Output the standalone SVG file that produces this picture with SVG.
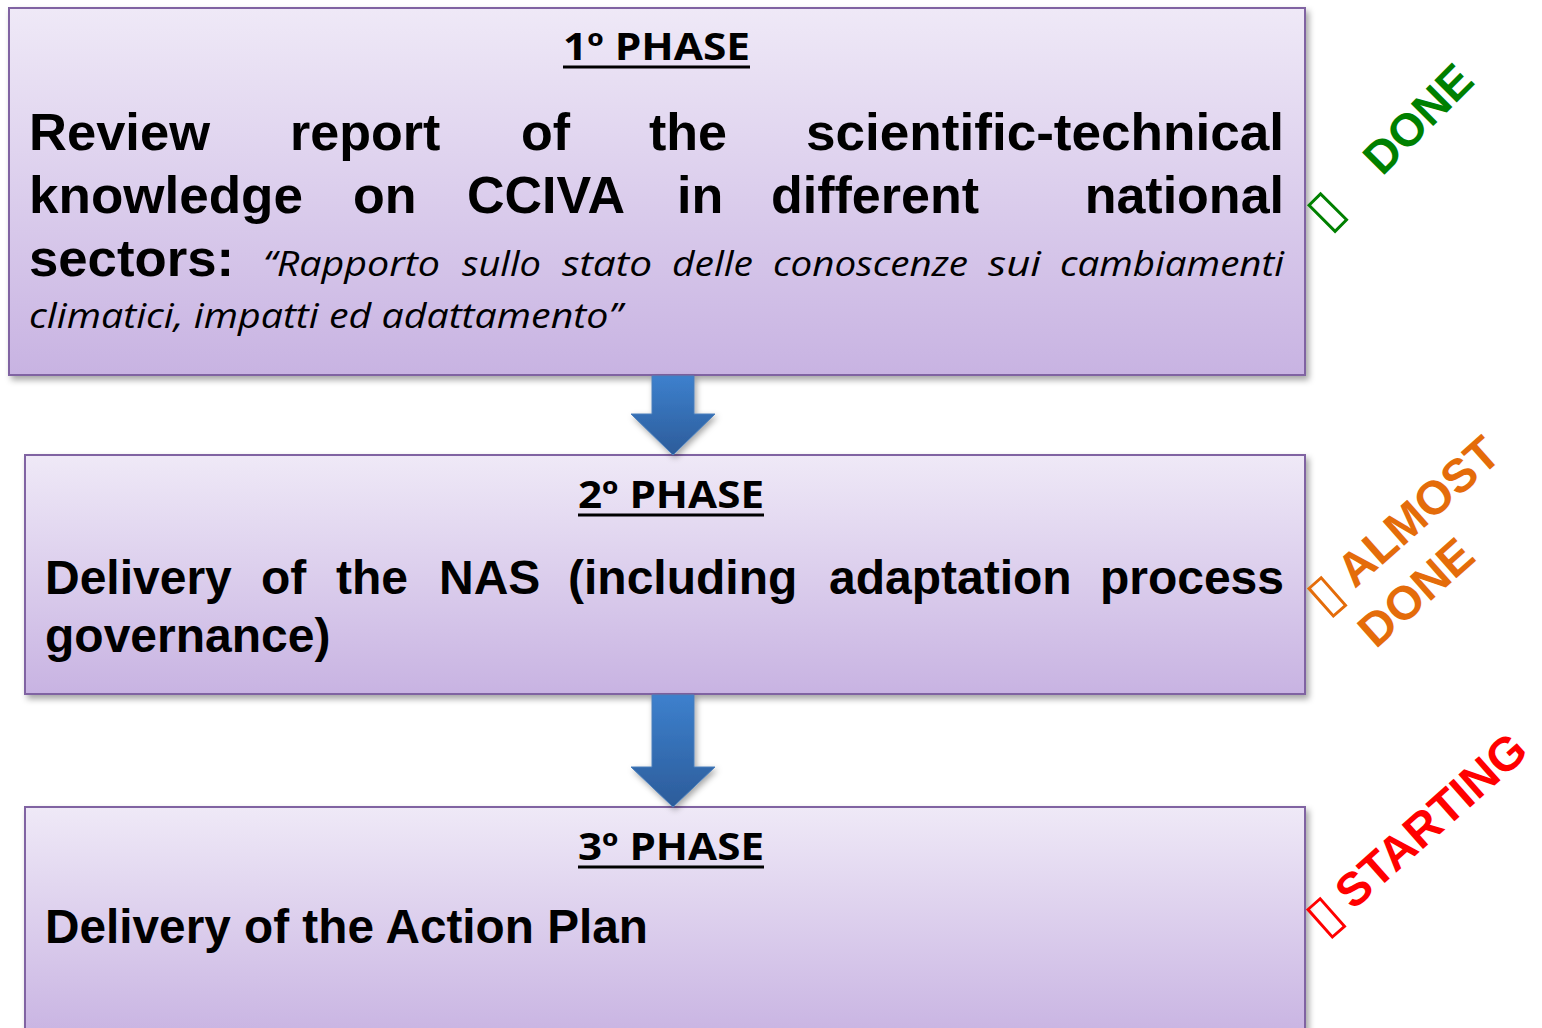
<svg xmlns="http://www.w3.org/2000/svg" width="1542" height="1028" viewBox="0 0 1542 1028">
  <defs>
    <linearGradient id="boxFill" x1="0" y1="0" x2="0" y2="1">
      <stop offset="0" stop-color="#EFE9F7"/>
      <stop offset="1" stop-color="#C8B3E2"/>
    </linearGradient>
    <linearGradient id="box3Fill" gradientUnits="userSpaceOnUse" x1="0" y1="807" x2="0" y2="1040">
      <stop offset="0" stop-color="#EFE9F7"/>
      <stop offset="1" stop-color="#C8B3E2"/>
    </linearGradient>
    <linearGradient id="arrowFill" x1="0" y1="0" x2="0" y2="1">
      <stop offset="0" stop-color="#3D80CD"/>
      <stop offset="1" stop-color="#2C5C9A"/>
    </linearGradient>
    <filter id="shadow" x="-5%" y="-10%" width="110%" height="125%">
      <feDropShadow dx="3" dy="4" stdDeviation="3" flood-color="#000" flood-opacity="0.35"/>
    </filter>
    <filter id="arrowShadow" x="-30%" y="-30%" width="160%" height="160%">
      <feDropShadow dx="2" dy="3" stdDeviation="3" flood-color="#000" flood-opacity="0.35"/>
    </filter>
    <style>
      .box { stroke: #8064A2; stroke-width: 2; filter: url(#shadow); }
      .title { font-family: "Open Sans", "Liberation Sans", sans-serif; font-weight: bold; font-size: 37px; fill: #000; }
      .uline { stroke: #000; stroke-width: 3; }
      .big { font-family: "Liberation Sans", Arial, sans-serif; font-weight: bold; font-size: 52px; fill: #000; }
      .mid { font-family: "Liberation Sans", Arial, sans-serif; font-weight: bold; font-size: 48px; fill: #000; }
      .ital { font-family: "Open Sans", "Liberation Sans", sans-serif; font-style: italic; font-size: 34px; fill: #000; }
      .arrow { fill: url(#arrowFill); stroke: #4A7EBB; stroke-width: 1; filter: url(#arrowShadow); }
      .status { font-family: "Liberation Sans", Arial, sans-serif; font-weight: bold; font-size: 46px; }
      .status-lg { font-size: 47px; }
      .tick { font-family: "DejaVu Sans", sans-serif; font-weight: bold; font-size: 52px; }
    </style>
  </defs>

  <rect width="1542" height="1028" fill="#FFFFFF"/>

  <!-- Phase 1 -->
  <g id="phase1">
    <rect class="box" x="9" y="8" width="1296" height="367" fill="url(#boxFill)"/>
    <text class="title" x="563" y="60" textLength="187" lengthAdjust="spacingAndGlyphs">1º PHASE</text>
    <line class="uline" x1="563" y1="67" x2="750" y2="67"/>
    <text class="big" x="29" y="150" textLength="181" lengthAdjust="spacingAndGlyphs">Review</text>
    <text class="big" x="290" y="150">report</text>
    <text class="big" x="521" y="150">of</text>
    <text class="big" x="649" y="150">the</text>
    <text class="big" x="806" y="150" textLength="478" lengthAdjust="spacingAndGlyphs">scientific-technical</text>
    <text class="big" x="29" y="213" textLength="274" lengthAdjust="spacingAndGlyphs">knowledge</text>
    <text class="big" x="353" y="213">on</text>
    <text class="big" x="467" y="213">CCIVA</text>
    <text class="big" x="677" y="213">in</text>
    <text class="big" x="771" y="213">different</text>
    <text class="big" x="1284" y="213" text-anchor="end">national</text>
    <text class="big" x="29" y="276" textLength="205" lengthAdjust="spacingAndGlyphs">sectors:</text>
    <text class="ital" x="263" y="276" textLength="177" lengthAdjust="spacingAndGlyphs">“Rapporto</text>
    <text class="ital" x="462" y="276" textLength="79" lengthAdjust="spacingAndGlyphs">sullo</text>
    <text class="ital" x="562" y="276" textLength="90" lengthAdjust="spacingAndGlyphs">stato</text>
    <text class="ital" x="672" y="276" textLength="81" lengthAdjust="spacingAndGlyphs">delle</text>
    <text class="ital" x="773" y="276" textLength="195" lengthAdjust="spacingAndGlyphs">conoscenze</text>
    <text class="ital" x="988" y="276" textLength="53" lengthAdjust="spacingAndGlyphs">sui</text>
    <text class="ital" x="1060" y="276" textLength="224" lengthAdjust="spacingAndGlyphs">cambiamenti</text>
    <text class="ital" x="29" y="328" textLength="593" lengthAdjust="spacingAndGlyphs">climatici, impatti ed adattamento”</text>
  </g>

  <!-- Phase 2 -->
  <g id="phase2">
    <rect class="box" x="25" y="455" width="1280" height="239" fill="url(#boxFill)"/>
    <text class="title" x="578" y="508" textLength="186" lengthAdjust="spacingAndGlyphs">2º PHASE</text>
    <line class="uline" x1="578" y1="515" x2="764" y2="515"/>
    <text class="mid" x="45" y="594">Delivery</text>
    <text class="mid" x="261" y="594">of</text>
    <text class="mid" x="336" y="594">the</text>
    <text class="mid" x="439" y="594">NAS</text>
    <text class="mid" x="568" y="594">(including</text>
    <text class="mid" x="829" y="594">adaptation</text>
    <text class="mid" x="1284" y="594" text-anchor="end">process</text>
    <text class="mid" x="45" y="652">governance)</text>
  </g>

  <!-- Phase 3 (runs past the bottom edge) -->
  <g id="phase3">
    <rect class="box" x="25" y="807" width="1280" height="240" fill="url(#box3Fill)"/>
    <text class="title" x="578" y="860" textLength="186" lengthAdjust="spacingAndGlyphs">3º PHASE</text>
    <line class="uline" x1="578" y1="867" x2="764" y2="867"/>
    <text class="mid" x="45" y="943" textLength="603" lengthAdjust="spacingAndGlyphs">Delivery of the Action Plan</text>
  </g>

  <!-- Block arrows between phases -->
  <g id="connectors">
    <path class="arrow" d="M652,376 H694 V414 H715 L673,455 L631,414 H652 Z"/>
    <path class="arrow" d="M652,695 H694 V767 H715 L673,807 L631,767 H652 Z"/>
  </g>

  <!-- Status stamps -->
  <g id="status-done" fill="#008000" transform="translate(1330,228) rotate(-45)">
    <text class="tick" x="-5" y="1">▯</text>
    <text class="status" x="73" y="1">DONE</text>
  </g>
  <g id="status-almost" fill="#E46C0A" transform="translate(1328.5,612.5) rotate(-41.5)">
    <text class="tick" x="-5" y="1">▯</text>
    <text class="status status-lg" x="35" y="0">ALMOST</text>
    <text class="status status-lg" x="11" y="59">DONE</text>
  </g>
  <g id="status-starting" fill="#FF0000" transform="translate(1327.5,933.5) rotate(-41.5)">
    <text class="tick" x="-5" y="1">▯</text>
    <text class="status status-lg" x="34" y="0">STARTING</text>
  </g>
</svg>
